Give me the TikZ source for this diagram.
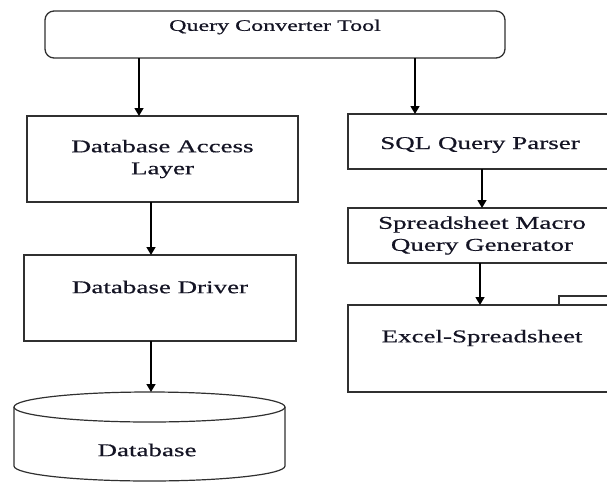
\documentclass[tikz,border=0pt]{standalone}
\usepackage{fontspec}
\setmainfont[FakeStretch=1.5,FakeBold=0.6]{Liberation Serif}
\usetikzlibrary{arrows.meta}
\definecolor{linec}{HTML}{303030}
\definecolor{txtc}{HTML}{141424}
\begin{document}
\begin{tikzpicture}[x=1pt,y=-1pt,
  box/.style={draw=linec, line width=1.3pt, inner sep=0pt, outer sep=0pt, align=center, text=txtc, font=\fontsize{18}{22}\selectfont},
  rbox/.style={box, rounded corners=9pt},
  txt/.style={inner sep=0pt, text=txtc, align=center, font=\fontsize{18}{22}\selectfont},
  arr/.style={draw=black, line width=1.4pt, -{Triangle[width=9pt,length=8pt]}},
  cyl/.style={draw=linec, line width=1.2pt}
]
\useasboundingbox (0,0) rectangle (607,482);
\clip (0,0) rectangle (607,482);

% top box
\node[rbox, minimum width=460, minimum height=47] (qct) at (275,34.5) {};
\node[txt, font=\fontsize{16}{19}\selectfont] (qctlabel) at (275,27) {Query Converter Tool};

% left column
\node[box, minimum width=271, minimum height=86] (dal) at (162.5,159) {Database Access\\Layer};
\node[box, minimum width=272, minimum height=86] (dd) at (160,298) {};
\node[txt] (ddlabel) at (160,287) {Database Driver};

% cylinder
\node[inner sep=0pt, outer sep=0pt, minimum width=271, minimum height=90] (db) at (149.5,437) {};
\draw[cyl] (149.5,407) ellipse[x radius=135.5, y radius=15];
\draw[cyl] (14,407) -- (14,466) arc[start angle=180, end angle=0, x radius=135.5, y radius=15] -- (285,407);
\node[txt] (dblabel) at (147,450) {Database};

% right column
\node[box, minimum width=268, minimum height=55] (sql) at (482,141.5) {};
\node[txt] (sqllabel) at (480,145) {SQL Query Parser};
\node[box, minimum width=268, minimum height=55] (smq) at (482,235.5) {Spreadsheet Macro\\Query Generator};
\node[box, minimum width=268, minimum height=87] (xl) at (482,348.5) {};
\node[txt] (xllabel) at (482,338) {Excel-Spreadsheet};
\draw[draw=linec, line width=1.3pt] (559,305) -- (559,296) -- (620,296);

% arrows
\coordinate (ax1) at (139,0);
\coordinate (ax2) at (415,0);
\coordinate (ax3) at (151,0);
\coordinate (ax4) at (482,0);
\coordinate (ax5) at (480,0);
\draw[arr] (ax1 |- qct.south) -- (ax1 |- dal.north);
\draw[arr] (ax2 |- qct.south) -- (ax2 |- sql.north);
\draw[arr] (ax3 |- dal.south) -- (ax3 |- dd.north);
\draw[arr] (ax3 |- dd.south) -- (ax3 |- db.north);
\draw[arr] (ax4 |- sql.south) -- (ax4 |- smq.north);
\draw[arr] (ax5 |- smq.south) -- (ax5 |- xl.north);
\end{tikzpicture}
\end{document}
